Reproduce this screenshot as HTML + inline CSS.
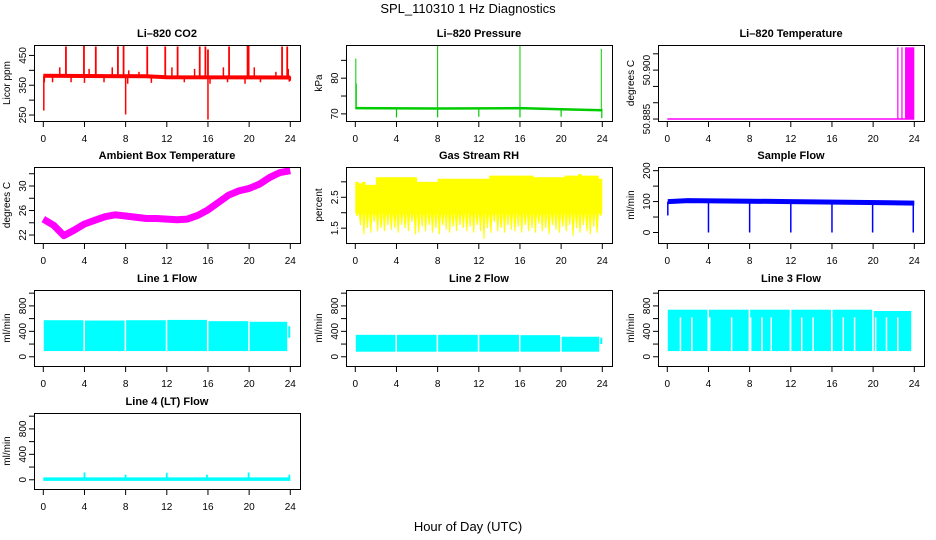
<!DOCTYPE html>
<html><head><meta charset="utf-8">
<style>
html,body{margin:0;padding:0;background:#fff;}
svg{display:block;font-family:"Liberation Sans",Arial,sans-serif;}
</style></head>
<body>
<svg id="chart" width="936" height="540" viewBox="0 0 936 540" xmlns="http://www.w3.org/2000/svg">
<text x="468" y="13" text-anchor="middle" font-size="13">SPL_110310  1 Hz Diagnostics</text>
<text x="468" y="531" text-anchor="middle" font-size="13">Hour of Day (UTC)</text>
</svg>
<script>
// ---- data ----
const xTicks = [0,4,8,12,16,20,24];
// CO2
const co2Base = [[0,382],[10,380],[12,377],[24,376]];
const co2SpikeX = [2.2,3.95,5.1,7.25,7.8,10.1,11.85,13.05,15.2,15.75,16.0,18.05,19.85,19.95,23.2,23.7];
const co2SpikeTop = [480,482,480,480,482,480,480,480,480,480,470,480,482,482,480,480];
const co2SmallX = [1.6,4.45,6.7,8.3,9.3,12.5,14.7,17.5,20.5,22.6,23.8];
const co2SmallTop = [410,405,410,400,395,410,405,410,410,395,405];
const co2DipX = [0.05,0.1,8.0,16.0,0.9,2.7,4.0,5.9,8.2,10.5,13.7,16.2,17.9,19.6,21.1,23.9,24.0];
const co2DipVal = [265,360,252,235,360,360,358,360,355,358,360,355,360,355,360,362,365];
// Pressure
const presBase = [[0,71.6],[8,71.5],[16,71.6],[20,71.3],[24,71.0]];
const presSpikeX = [0.05,0.1,8.0,16.0,23.9];
const presSpikeTop = [85.5,78.5,89.3,89.3,88.2];
const presDipX = [4.0,8.0,12.0,16.0,20.0,23.95];
const presDipVal = [69.0,69.0,69.2,69.0,69.2,68.8];
// Li-820 temperature
const tempBase = 50.885;
const tempSpikeX = [22.4,22.8];
const tempSpikeTop = [50.907,50.907];
const tempBlock = [23.1,24.0];
// Ambient box temperature (hourly)
const ambHours = [0,1,2,3,4,5,6,7,8,9,10,11,12,13,14,15,16,17,18,19,20,21,22,23,24];
const ambVals = [24.6,23.6,21.9,22.8,23.8,24.4,25.0,25.3,25.1,24.9,24.7,24.7,24.6,24.5,24.6,25.2,26.1,27.3,28.5,29.2,29.6,30.3,31.4,32.2,32.5];
// Gas stream RH (envelope, every 20 min)
const rhUpper = [3.0,2.95,3.0,2.9,2.9,2.9,3.15,3.15,3.15,3.15,3.15,3.15,3.15,3.15,3.15,3.15,3.15,3.15,3.0,3.0,3.0,3.0,3.0,3.0,3.1,3.1,3.1,3.1,3.1,3.1,3.1,3.1,3.1,3.1,3.1,3.1,3.1,3.1,3.1,3.2,3.2,3.2,3.2,3.2,3.2,3.2,3.2,3.2,3.2,3.2,3.2,3.2,3.15,3.15,3.15,3.15,3.15,3.15,3.15,3.15,3.15,3.2,3.2,3.2,3.2,3.25,3.2,3.2,3.2,3.2,3.2,3.1];
const rhLower = [1.9,1.6,1.3,1.5,1.35,1.7,1.4,1.5,1.4,1.6,1.45,1.5,1.35,1.6,1.5,1.4,1.7,1.3,1.35,1.55,1.4,1.6,1.35,1.5,1.3,1.6,1.45,1.35,1.55,1.4,1.6,1.5,1.4,1.55,1.35,1.6,1.4,1.15,1.5,1.35,1.7,1.4,1.5,1.35,1.6,1.45,1.4,1.55,1.35,1.6,1.4,1.5,1.35,1.65,1.4,1.5,1.3,1.6,1.45,1.35,1.55,1.4,1.6,1.25,1.5,1.35,1.6,1.4,1.3,1.55,1.35,1.9];
// Sample flow
const sfBase = [[0.05,100],[2,103],[12,100],[24,95]];
const sfDipX = [0.05,4.0,8.0,12.0,16.0,19.95,23.9];
const sfDipVal = [55,0,0,0,0,0,0];
// Line flows: segments between gaps
const segStart = [0.05,4.05,8.05,12.05,16.05,20.05];
const segEnd = [3.9,7.9,11.9,15.9,19.9,23.7];
const l1Top = [575,570,575,580,560,550];
const l1Bot = [90,90,90,90,90,90];
const l2Top = [345,345,345,345,340,315];
const l2Bot = [80,80,80,80,80,80];
const l3Top = [740,740,740,740,740,720];
const l3Bot = [90,90,90,90,90,90];
const l3Gaps = [1.28,2.39,4.12,6.25,8.1,9.2,10.1,11.96,13.06,14.17,16.0,17.1,18.2,20.24,21.3,22.4,23.9];
const l4Base = 10;
const l4SpikeX = [4.0,8.0,12.0,15.9,19.95,23.9];
const l4SpikeTop = [115,80,110,80,115,80];

// ---- drawing ----
const svg = document.getElementById('chart');
const NS = 'http://www.w3.org/2000/svg';
function mk(tag, attrs, parent){
  const e = document.createElementNS(NS, tag);
  for (const k in attrs) e.setAttribute(k, attrs[k]);
  (parent||svg).appendChild(e);
  return e;
}
const rowTop = [45,167,290,413];
const H = 76, W = 266;
function panel(col,row,name,title,ylab,dom,ticks,labels){
  const bx = 34 + col*312, by = rowTop[row];
  const g = mk('g',{});
  
  
  const xs = h => bx + 9.3 + h*(247/24);
  const ys = v => by + H - (v-dom[0])/(dom[1]-dom[0])*H;
  const t = mk('text',{x:bx+W/2,y:by-8,'text-anchor':'middle','font-size':11,'font-weight':'bold'},g);
  t.textContent = title;
  
  
  const yl = mk('text',{x:0,y:0,'text-anchor':'middle','font-size':10,transform:`translate(${bx-24},${by+H/2}) rotate(-90)`},g);
  yl.textContent = ylab;
  
  
  const ya = mk('g',{},g);
  
  
  ticks.forEach(v=>{
    mk('line',{x1:bx-5,x2:bx,y1:ys(v),y2:ys(v),stroke:'#000','stroke-width':1},ya);
  });
  labels.forEach(v=>{
    const tx = mk('text',{x:0,y:0,'text-anchor':'middle','font-size':10,transform:`translate(${bx-8},${ys(v)}) rotate(-90)`},ya);
    tx.textContent = String(v);
  });
  const xa = mk('g',{},g);
  
  
  xTicks.forEach(h=>{
    mk('line',{x1:xs(h),x2:xs(h),y1:by+H,y2:by+H+6,stroke:'#000','stroke-width':1},xa);
    const tx = mk('text',{x:xs(h),y:by+H+21,'text-anchor':'middle','font-size':10},xa);
    tx.textContent = String(h);
  });
  const plot = mk('g',{},g);
  
  
  const clip = 'clip'+col+row;
  const cp = mk('clipPath',{id:clip},g);
  mk('rect',{x:bx,y:by,width:W,height:H},cp);
  plot.setAttribute('clip-path','url(#'+clip+')');
  mk('rect',{x:bx+0.5,y:by+0.5,width:W,height:H,fill:'none',stroke:'#000','stroke-width':1},g);
  return {xs,ys,plot};
}
function vline(p,x,y1,y2,color,w){
  mk('line',{x1:p.xs(x),x2:p.xs(x),y1:p.ys(y1),y2:p.ys(y2),stroke:color,'stroke-width':w||1.5},p.plot);
}
function baseline(p,pts,color,w){
  mk('polyline',{points:pts.map(q=>p.xs(q[0])+','+p.ys(q[1])).join(' '),fill:'none',stroke:color,'stroke-width':w},p.plot);
}

// CO2
let p = panel(0,0,'co2','Li\u2013820 CO2','Licor ppm',[230,485],[250,300,350,400,450],[250,350,450]);
baseline(p,co2Base,'#ff0000',4);
co2SpikeX.forEach((x,i)=>vline(p,x,380,co2SpikeTop[i],'#ff0000',1.8));
co2SmallX.forEach((x,i)=>vline(p,x,380,co2SmallTop[i],'#ff0000',1.5));
co2DipX.forEach((x,i)=>vline(p,x,380,co2DipVal[i],'#ff0000',1.5));

// Pressure
p = panel(1,0,'pressure','Li\u2013820 Pressure','kPa',[68,89.3],[70,75,80,85],[70,80]);
baseline(p,presBase,'#00cc00',2.5);
presSpikeX.forEach((x,i)=>vline(p,x,71.5,presSpikeTop[i],'#00cc00',1));
presDipX.forEach((x,i)=>vline(p,x,71.5,presDipVal[i],'#00cc00',1.2));

// Li-820 temperature
p = panel(2,0,'li820-temp','Li\u2013820 Temperature','degrees C',[50.8844,50.9077],[50.885,50.890,50.895,50.900,50.905],['50.885','50.900']);
baseline(p,[[0,tempBase],[24,tempBase]],'#ff00ff',1.5);
tempSpikeX.forEach((x,i)=>vline(p,x,tempBase,tempSpikeTop[i],'#ff00ff',1.2));
mk('rect',{x:p.xs(tempBlock[0]),y:p.ys(50.907),width:p.xs(tempBlock[1])-p.xs(tempBlock[0]),height:p.ys(tempBase)-p.ys(50.907),fill:'#ff00ff'},p.plot);

// Ambient
p = panel(0,1,'ambient-temp','Ambient Box Temperature','degrees C',[20.7,33.1],[22,24,26,28,30,32],[22,26,30]);
mk('polyline',{points:ambHours.map((h,i)=>p.xs(h)+','+p.ys(ambVals[i])).join(' '),fill:'none',stroke:'#ff00ff','stroke-width':7,'stroke-linejoin':'round'},p.plot);

// RH
p = panel(1,1,'gas-rh','Gas Stream RH','percent',[1.02,3.48],[1.5,2.0,2.5,3.0],['1.5','2.5']);
{
  const n = rhUpper.length, step = 24/n;
  let up = [], lo = [];
  for (let i=0;i<n;i++){
    up.push(p.xs(i*step)+','+p.ys(rhUpper[i])); up.push(p.xs((i+1)*step)+','+p.ys(rhUpper[i]));
  }
  for (let i=n-1;i>=0;i--){
    const xm = (i+0.5)*step;
    lo.push(p.xs((i+1)*step)+','+p.ys(2.0)); lo.push(p.xs(xm+0.05)+','+p.ys(rhLower[i])); lo.push(p.xs(xm-0.05)+','+p.ys(rhLower[i])); lo.push(p.xs(i*step)+','+p.ys(2.0));
  }
  mk('polygon',{points:up.concat(lo).join(' '),fill:'#ffff00'},p.plot);
}

// Sample flow
p = panel(2,1,'sample-flow','Sample Flow','ml/min',[-34,211.8],[0,50,100,150,200],[0,100,200]);
baseline(p,sfBase,'#0000ff',5);
sfDipX.forEach((x,i)=>vline(p,x,100,sfDipVal[i],'#0000ff',1.5));

// Line flows
function flowPanel(col,row,name,title,tops,bots,gaps){
  const q = panel(col,row,name,title,'ml/min',[-145,1050],[0,200,400,600,800,1000],[0,400,800]);
  segStart.forEach((s,i)=>{
    mk('rect',{x:q.xs(s),y:q.ys(tops[i]),width:q.xs(segEnd[i])-q.xs(s),height:q.ys(bots[i])-q.ys(tops[i]),fill:'#00ffff'},q.plot);
  });
  (gaps||[]).forEach(g=>{
    mk('line',{x1:q.xs(g),x2:q.xs(g),y1:q.ys(620),y2:q.ys(90),stroke:'#fff','stroke-width':1.5},q.plot);
  });
  return q;
}
p = flowPanel(0,2,'line1-flow','Line 1 Flow',l1Top,l1Bot);
vline(p,23.9,300,480,'#00ffff',2);
p = flowPanel(1,2,'line2-flow','Line 2 Flow',l2Top,l2Bot);
vline(p,23.9,200,300,'#00ffff',2);
p = flowPanel(2,2,'line3-flow','Line 3 Flow',l3Top,l3Bot,l3Gaps);
p = panel(0,3,'line4-flow','Line 4 (LT) Flow','ml/min',[-145,1050],[0,200,400,600,800,1000],[0,400,800]);
baseline(p,[[0,l4Base],[24,l4Base]],'#00ffff',3.5);
l4SpikeX.forEach((x,i)=>vline(p,x,l4Base,l4SpikeTop[i],'#00ffff',1.8));
</script>
</body></html>
